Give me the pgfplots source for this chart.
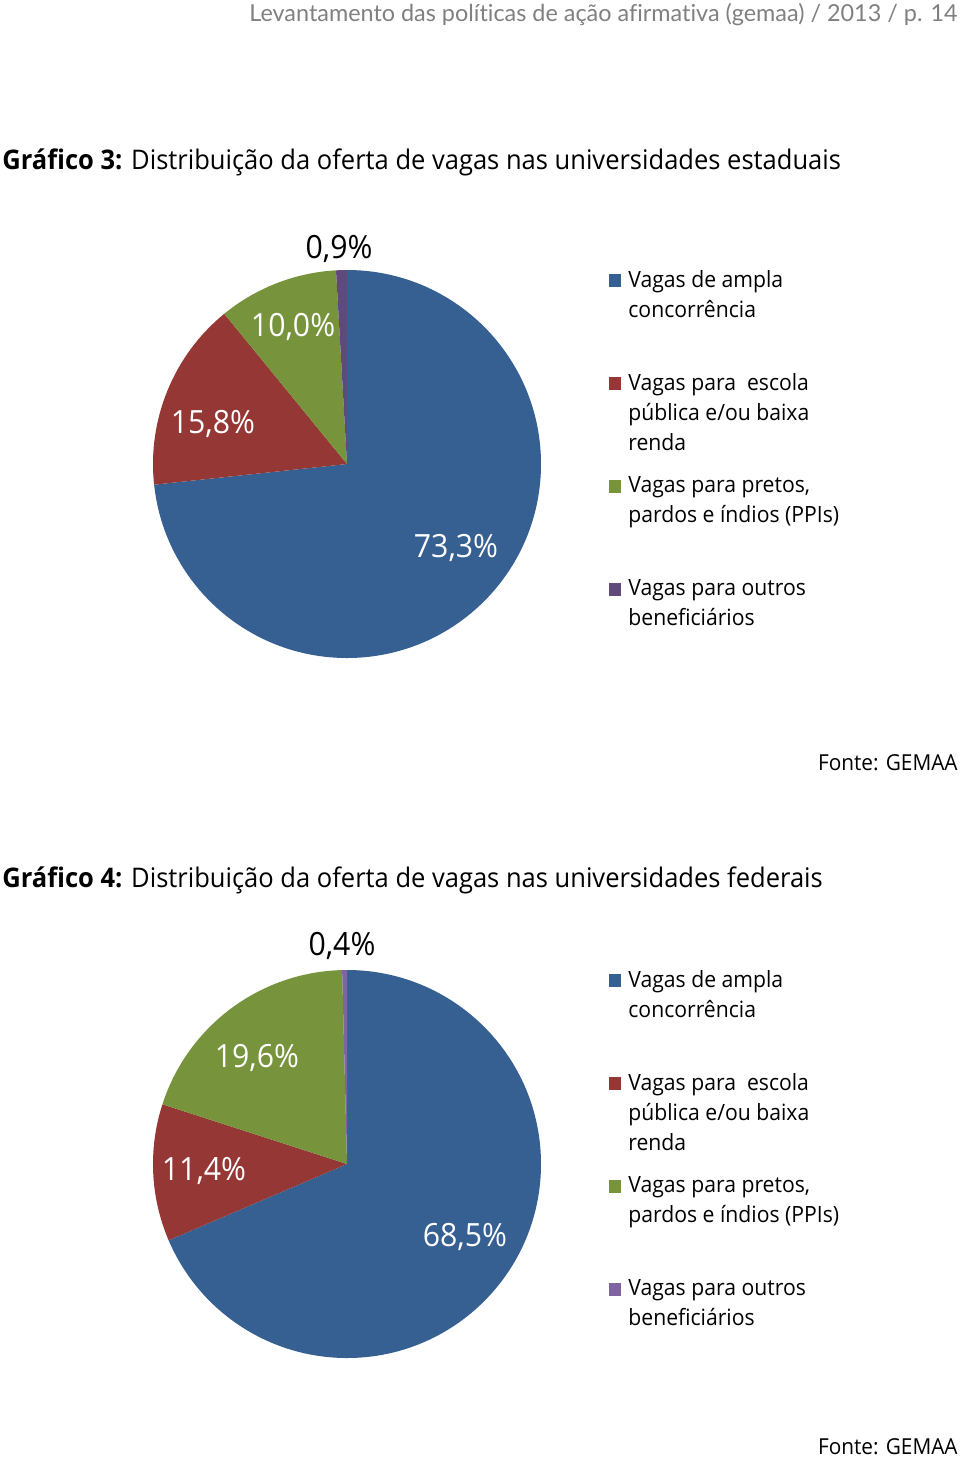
\documentclass[border=0pt]{standalone}
\usepackage{pgfplots}
\pgfplotsset{compat=1.18}
\usepackage{pgfplotstable}
\usepackage{fontspec}
\setmainfont{Open Sans}[FakeStretch=0.945]
\newfontfamily\headfont{Lato}[Ligatures=NoCommon]

\definecolor{pieA0}{HTML}{376092}
\definecolor{pieA1}{HTML}{953735}
\definecolor{pieA2}{HTML}{77933C}
\definecolor{pieA3}{HTML}{604A7B}
\definecolor{pieB0}{HTML}{376092}
\definecolor{pieB1}{HTML}{953735}
\definecolor{pieB2}{HTML}{77933C}
\definecolor{pieB3}{HTML}{8064A2}

% Gráfico 3: universidades estaduais
\pgfplotstableread{
value
73.3
15.8
10.0
0.9
}\estaduais
% Gráfico 4: universidades federais
\pgfplotstableread{
value
68.5
11.4
19.6
0.4
}\federais

\newcommand\drawpie[2]{%
  \pgfmathsetmacro\pietotal{0}%
  \pgfplotsforeachungrouped \i in {0,...,3}{%
    \pgfplotstablegetelem{\i}{value}\of{#1}%
    \pgfmathsetmacro\pietotal{\pietotal+\pgfplotsretval}}%
  \pgfmathsetmacro\pieangle{90}%
  \pgfplotsforeachungrouped \i in {0,...,3}{%
    \pgfplotstablegetelem{\i}{value}\of{#1}%
    \pgfmathsetmacro\pieend{\pieangle-\pgfplotsretval/\pietotal*360}%
    \edef\piecol{#2\i}%
    \fill[fill=\piecol] (axis cs:0,0) -- (axis cs:{cos(\pieangle)},{sin(\pieangle)})
      arc[start angle=\pieangle, end angle=\pieend, radius=97pt] -- cycle;
    \let\pieangle\pieend}}

\pgfplotsset{
  sq legend/.style={legend image code/.code={\fill[##1] (0pt,0pt) rectangle (6pt,6.5pt);}},
  pieaxis/.style={
    hide axis, scale only axis, width=194pt, height=194pt,
    xmin=-1, xmax=1, ymin=-1, ymax=1, clip=false, anchor=center,
    legend style={at={(axis description cs:1.1598,1.0206)}, anchor=north west,
      draw=none, fill=none, row sep=39.35pt, column sep=3.5pt,
      nodes={inner sep=0pt},
      cells={anchor=base west},
      font=\fontsize{11.2}{15}\selectfont},
  },
}
\newcommand\entry[1]{\parbox[t]{130pt}{\strut #1}}
\newcommand\pielabel{\fontsize{16}{19}\selectfont}

\begin{document}
\begin{tikzpicture}[x=0.5pt,y=-0.5pt]
\useasboundingbox (0,0) rectangle (960,1457);
\coordinate (pie3) at (347,464);
\coordinate (pie4) at (347,1164);

\node[anchor=base east, text=black!50, inner sep=0pt, font=\headfont\fontsize{11.7}{14}\selectfont] at (958,21)
  {Levantamento das políticas de ação afirmativa (gemaa) / 2013 / p. 14};

% ---------- Gráfico 3 ----------
\node[anchor=base west, inner sep=0pt, font=\fontsize{13.5}{16}\selectfont] at (2,169)
  {\textbf{Gráfico 3:} Distribuição da oferta de vagas nas universidades estaduais};

\begin{axis}[pieaxis, at={(pie3)}]
  \pgfplotsextra{\drawpie{\estaduais}{pieA}}
  \addlegendimage{sq legend, fill=pieA0, draw=none}
  \addlegendentry{\entry{Vagas de ampla\\\strut concorrência}}
  \addlegendimage{sq legend, fill=pieA1, draw=none}
  \addlegendentry{\entry{Vagas para~ escola\\\strut pública e/ou baixa\\\strut renda}}
  \addlegendimage{sq legend, fill=pieA2, draw=none}
  \addlegendentry{\entry{Vagas para pretos,\\\strut pardos e índios (PPIs)}}
  \addlegendimage{sq legend, fill=pieA3, draw=none}
  \addlegendentry{\entry{Vagas para outros\\\strut beneficiários}}
  \node[text=white, font=\pielabel] at (axis cs:0.562,-0.433) {73,3\%};
  \node[text=white, font=\pielabel] at (axis cs:-0.691,0.206) {15,8\%};
  \node[text=white, font=\pielabel] at (axis cs:-0.278,0.706) {10,0\%};
  \node[text=black, font=\pielabel] at (axis cs:-0.041,1.110) {0,9\%};
\end{axis}

\node[anchor=base east, inner sep=0pt, font=\fontsize{11}{13}\selectfont] at (958,770) {Fonte: GEMAA};

% ---------- Gráfico 4 ----------
\node[anchor=base west, inner sep=0pt, font=\fontsize{13.5}{16}\selectfont] at (2,887)
  {\textbf{Gráfico 4:} Distribuição da oferta de vagas nas universidades federais};

\begin{axis}[pieaxis, at={(pie4)}]
  \pgfplotsextra{\drawpie{\federais}{pieB}}
  \addlegendimage{sq legend, fill=pieB0, draw=none}
  \addlegendentry{\entry{Vagas de ampla\\\strut concorrência}}
  \addlegendimage{sq legend, fill=pieB1, draw=none}
  \addlegendentry{\entry{Vagas para~ escola\\\strut pública e/ou baixa\\\strut renda}}
  \addlegendimage{sq legend, fill=pieB2, draw=none}
  \addlegendentry{\entry{Vagas para pretos,\\\strut pardos e índios (PPIs)}}
  \addlegendimage{sq legend, fill=pieB3, draw=none}
  \addlegendentry{\entry{Vagas para outros\\\strut beneficiários}}
  \node[text=white, font=\pielabel] at (axis cs:0.608,-0.376) {68,5\%};
  \node[text=white, font=\pielabel] at (axis cs:-0.737,-0.036) {11,4\%};
  \node[text=white, font=\pielabel] at (axis cs:-0.464,0.546) {19,6\%};
  \node[text=black, font=\pielabel] at (axis cs:-0.026,1.124) {0,4\%};
\end{axis}

\node[anchor=base east, inner sep=0pt, font=\fontsize{11}{13}\selectfont] at (958,1454) {Fonte: GEMAA};
\end{tikzpicture}
\end{document}
